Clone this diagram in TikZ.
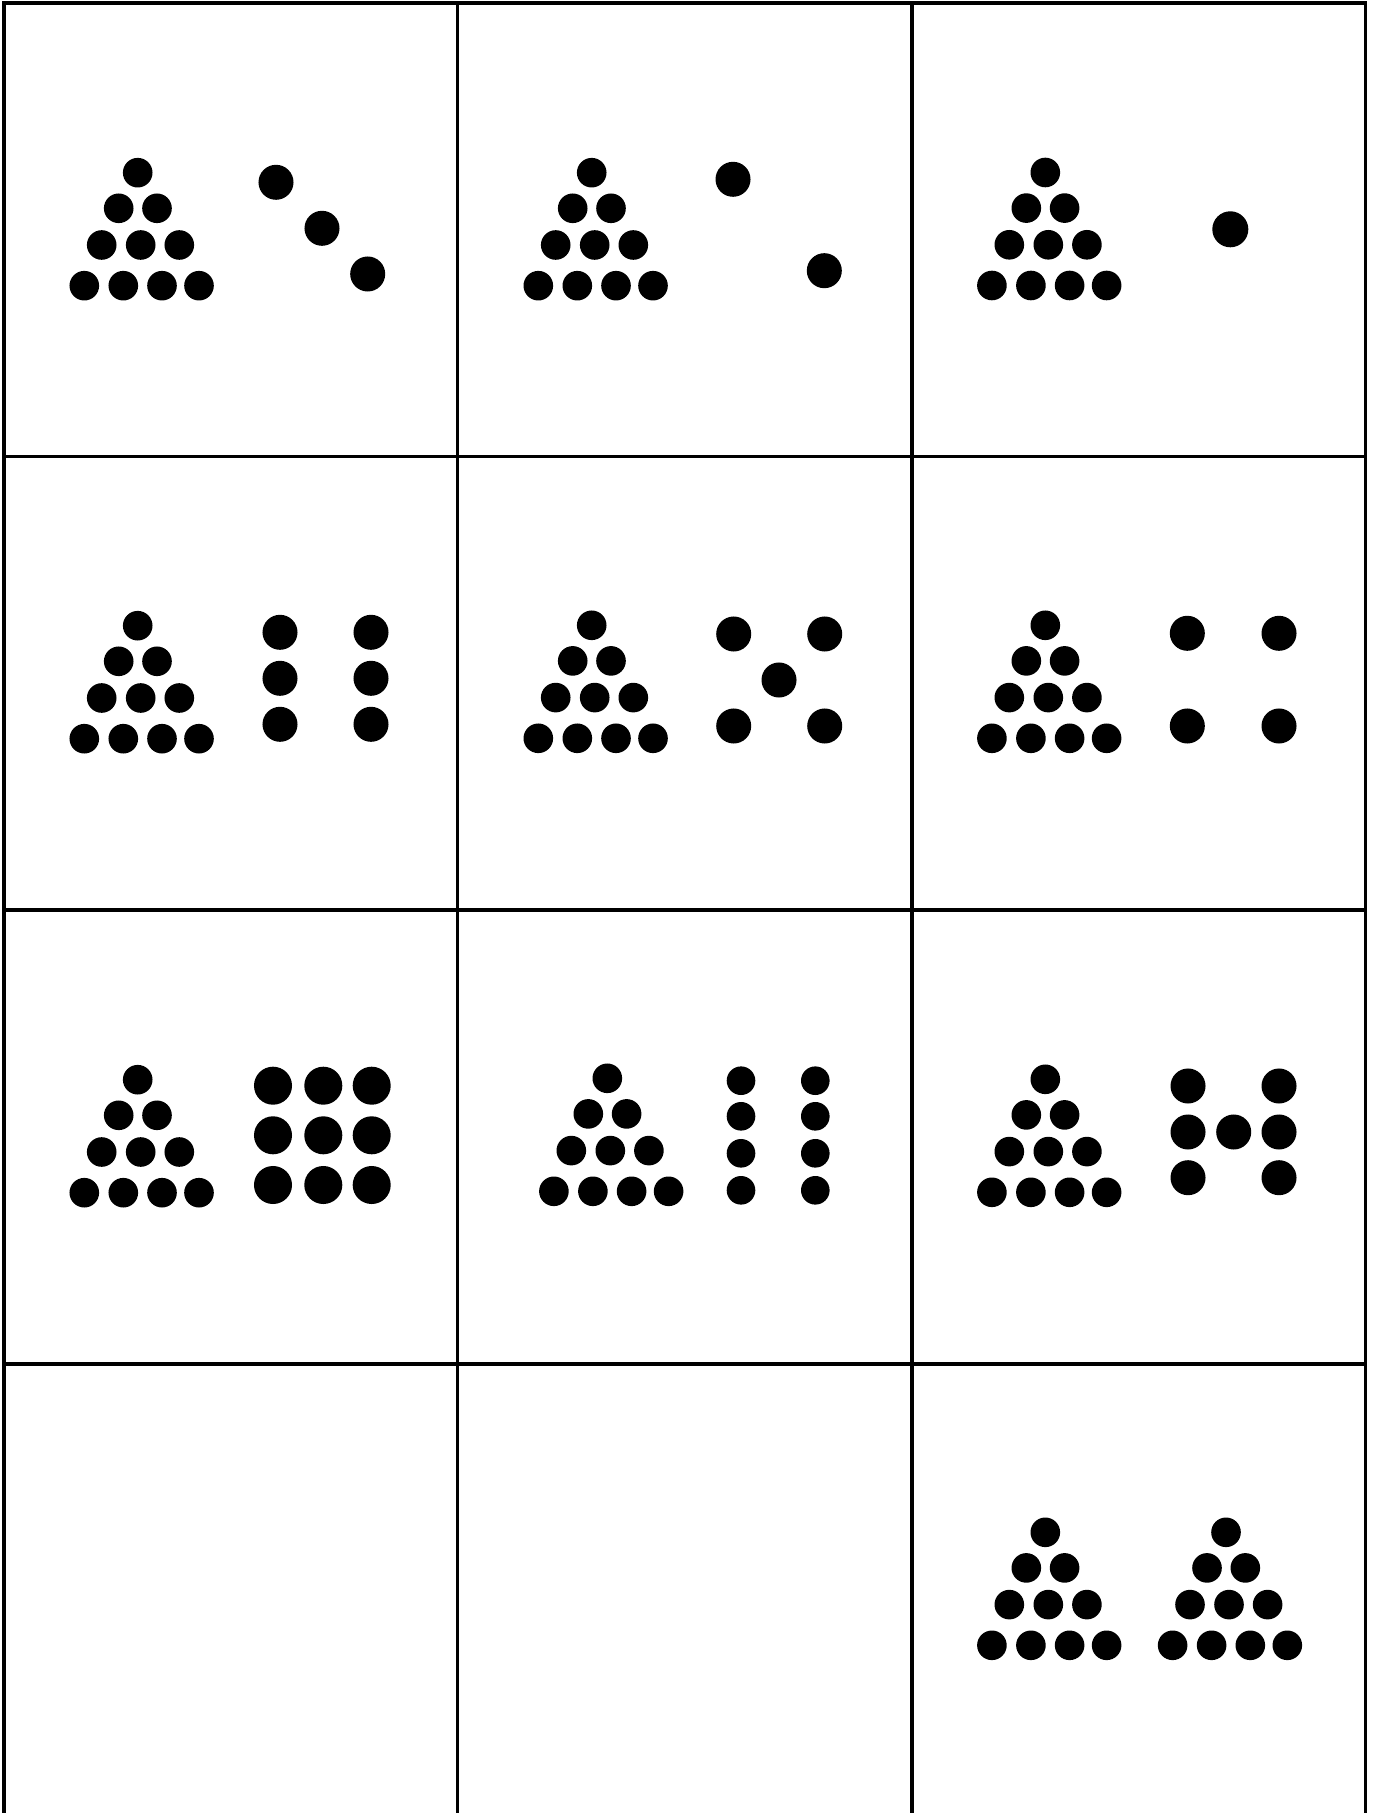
\documentclass[tikz,border=0pt]{standalone}
\usepackage{tikz}
\tikzset{
  cardline/.style={line width=0.9pt, black, line cap=rect},
  sdot/.style={fill=black},
  dotpyramid/.pic={
    \foreach \ox/\oy in {0/0, -19/35.6, 19.3/35.6, -36/72.3, 3/72.3, 41.6/72.3, -53.4/113, -14.4/113, 24.3/113, 61.3/113}
      \fill[sdot] (\ox,\oy) circle[radius=0.148cm];
  }
}

\begin{document}
\begin{tikzpicture}[x=0.01cm, y=-0.01cm]
\useasboundingbox (0,0) rectangle (1373,1813);
\foreach \gx in {4,457.5,912,1365.5}
  \draw[cardline] (\gx,3) -- (\gx,1813);
\foreach \gy in {3,456.5,910,1364}
  \draw[cardline] (4,\gy) -- (1365.5,\gy);
\foreach \tx/\ty in {137.7/172.7, 591.7/172.7, 1045.3/172.5, 137.7/625.7, 591.7/625.3, 1045.3/625.3, 137.7/1079.7, 607.3/1078.3, 1045.3/1079.3, 1045.3/1532.3, 1226/1532.3}
  \pic at (\tx,\ty) {dotpyramid};
\foreach \ox/\oy in {276/182.3, 322/228.3, 367.7/274}
  \fill[sdot] (\ox,\oy) circle[radius=0.175cm];
\foreach \ox/\oy in {733/179.3, 824.3/270.7}
  \fill[sdot] (\ox,\oy) circle[radius=0.175cm];
\fill[sdot] (1230.3,229.3) circle[radius=0.18cm];
\foreach \ox in {280,371}
  \foreach \oy in {632.3,678.3,724.3}
    \fill[sdot] (\ox,\oy) circle[radius=0.175cm];
\foreach \ox/\oy in {733.7/634, 824.7/634, 779/680, 733.7/726, 824.7/726}
  \fill[sdot] (\ox,\oy) circle[radius=0.175cm];
\foreach \ox/\oy in {1187.3/633.3, 1279/633.3, 1187.3/726, 1279/726}
  \fill[sdot] (\ox,\oy) circle[radius=0.175cm];
\foreach \ox in {273,323.3,371.7}
  \foreach \oy in {1085.7,1135.3,1185}
    \fill[sdot] (\ox,\oy) circle[radius=0.19cm];
\foreach \ox in {741,815.3}
  \foreach \oy in {1080.7,1116.3,1153.3,1190.3}
    \fill[sdot] (\ox,\oy) circle[radius=0.143cm];
\foreach \ox/\oy in {1188/1086, 1279/1086, 1188/1132, 1233.7/1132, 1279/1132, 1188/1177.7, 1279/1177.7}
  \fill[sdot] (\ox,\oy) circle[radius=0.175cm];
\end{tikzpicture}
\end{document}
